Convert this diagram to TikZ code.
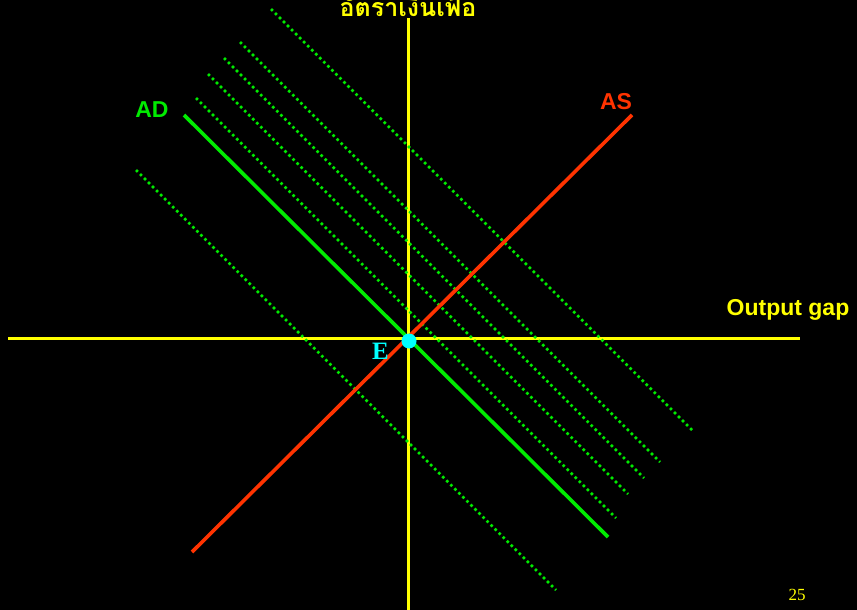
\documentclass[tikz,border=0pt]{standalone}
\usepackage{fontspec}
\setmainfont{Liberation Serif}
\setsansfont{Liberation Sans}
\newfontfamily\thaifont[Script=Thai]{Loma}
\usetikzlibrary{positioning}

\definecolor{adgreen}{RGB}{0,235,0}
\definecolor{asred}{RGB}{255,51,0}
\definecolor{axisyellow}{RGB}{255,255,0}
\definecolor{ecyan}{RGB}{0,255,255}

\begin{document}
\begin{tikzpicture}[
  x=1pt, y=-1pt,
  axis/.style={draw=axisyellow, line width=3pt},
  curve/.style={line width=3.6pt},
  adshift/.style={draw=adgreen, line width=2.6pt, dash pattern=on 2.6pt off 3.1pt},
  lbl/.style={font=\sffamily\bfseries\fontsize{23}{26}\selectfont, inner sep=0pt}
]
\fill[black] (0,0) rectangle (857,610);
\useasboundingbox (0,0) rectangle (857,610);

% Axes
\coordinate (xl) at (8,338);
\coordinate (xr) at (800,338);
\coordinate (yt) at (408,18);
\coordinate (yb) at (408,612);
\draw[axis] (xl) -- (xr);
\draw[axis] (yt) -- (yb);

% Shifted AD curves (dotted)
\foreach \sx/\sy/\len in {271/9/421, 240/42/420, 224/58/420, 208/74/420, 196/98/420, 136/170/420}
  \draw[adshift] (\sx,\sy) -- ++(\len,\len);

% AS and AD
\coordinate (as1) at (192,552);
\coordinate (as2) at (632,115);
\coordinate (ad1) at (184,115);
\coordinate (ad2) at (608,537);
\draw[curve, draw=asred] (as1) -- (as2);
\draw[curve, draw=adgreen] (ad1) -- (ad2);

% Equilibrium
\node[circle, fill=ecyan, minimum size=15pt, inner sep=0pt] (E) at (409,341) {};
\node[text=ecyan, font=\bfseries\fontsize{25}{28}\selectfont, inner sep=0pt, below left=2pt and 20pt of E.center] (Elbl) {E};

% Labels
\node[lbl, text=adgreen] (ADlbl) at (152,110) {AD};
\node[lbl, text=asred] (ASlbl) at (616,102) {AS};
\node[lbl, text=axisyellow] (gaplbl) at (788,310) {Output gap};
\node[text=axisyellow, font=\thaifont\bfseries\fontsize{25}{28}\selectfont, inner sep=0pt] (inflbl) at (408,6) {อัตราเงินเฟ้อ};
\node[text=axisyellow, font=\fontsize{17}{20}\selectfont, inner sep=0pt] (page) at (797,595) {25};
\end{tikzpicture}
\end{document}
